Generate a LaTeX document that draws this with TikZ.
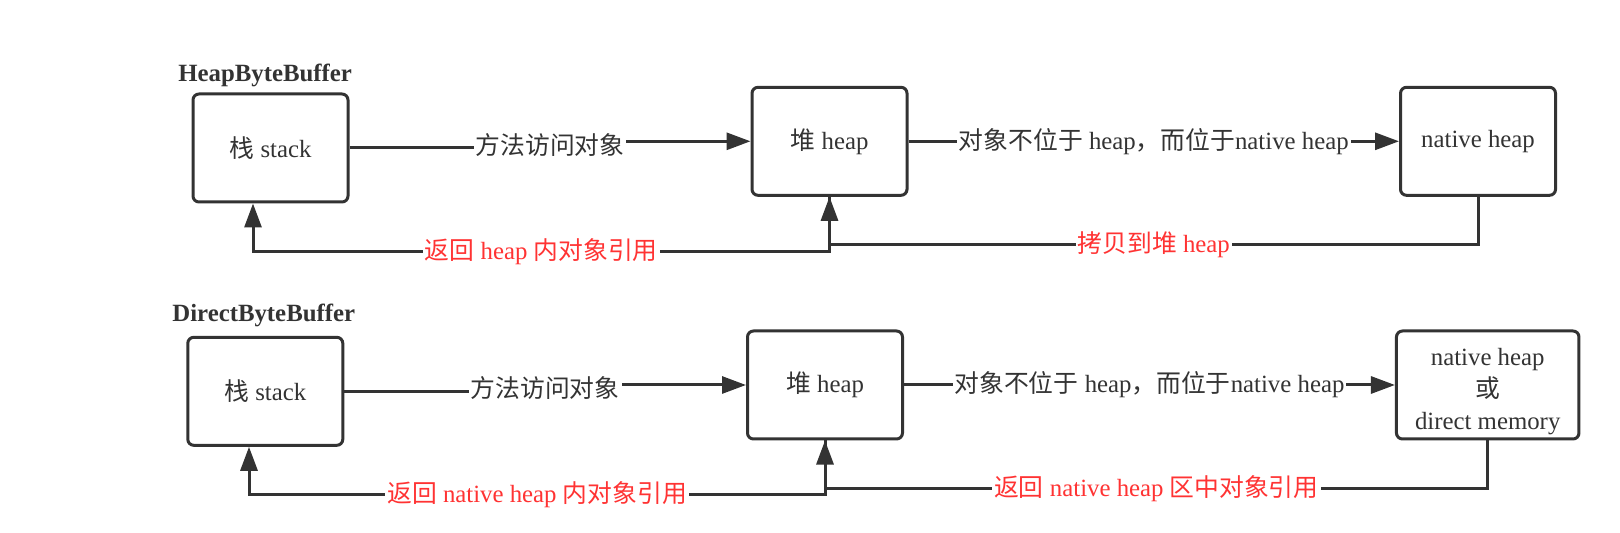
\documentclass[tikz,border=0pt]{standalone}
\usepackage{fontspec}
\setmainfont{Liberation Serif}
\newfontfamily\cjk{Noto Sans CJK SC}
\usepackage{xcolor}
\usepackage{tikz}
\usetikzlibrary{arrows.meta,calc}
\definecolor{bufInk}{HTML}{333333}
\definecolor{bufRed}{HTML}{FF3333}
\newcommand{\hanzi}[1]{{\cjk #1}}

\begin{document}
\begin{tikzpicture}[x=.5pt,y=-.5pt,font=\fontsize{12.4}{14}\selectfont]
  \tikzset{mem/.style={draw=bufInk,text=bufInk,line width=1.5pt,rounded corners=3pt,minimum width=77.5pt,minimum height=54pt,align=center,inner sep=2pt},
    flow/.style={draw=bufInk,line width=1.5pt,-{Triangle[length=12pt,width=8.5pt]}},
    lbl/.style={fill=white,text=bufInk,inner sep=1pt},
    back/.style={lbl,text=bufRed},
    title/.style={anchor=west,inner sep=0pt,text=bufInk,font=\fontsize{12.4}{14}\selectfont\bfseries}}
  \useasboundingbox (0,0) rectangle (1620,533);
  % HeapByteBuffer
  \node[title] (t1) at (178,75) {HeapByteBuffer};
  \node[mem] (stack1) at (270.5,148) {\hanzi{栈} stack};
  \node[mem] (heap1) at (829.5,141.3) {\hanzi{堆} heap};
  \node[mem] (native1) at (1478,141.3) {native heap};
  \draw[flow] (stack1.east) -| ($(stack1.east)!.5!(heap1.west)$) node[lbl] {\hanzi{方法访问对象}} |- (heap1.west);
  \draw[flow] (heap1.east) -- node[lbl] {\hanzi{对象不位于} heap\hanzi{，而位于}native heap} (native1.west);
  \draw[flow] (heap1.south) -- ++(0,55) -| node[back,pos=.25] {\hanzi{返回} heap \hanzi{内对象引用}} ($(stack1.south)+(-17.5,0)$);
  \draw[flow] (native1.south) -- ++(0,48) -| node[back,pos=.25] {\hanzi{拷贝到堆} heap} (heap1.south);
  % DirectByteBuffer
  \node[title] (t2) at (172,315) {DirectByteBuffer};
  \node[mem] (stack2) at (265.3,391.3) {\hanzi{栈} stack};
  \node[mem] (heap2) at (825,385) {\hanzi{堆} heap};
  \node[mem,minimum width=91.25pt,inner ysep=.5pt,font=\fontsize{12.4}{16}\selectfont] (native2) at (1487.7,385) {\rule{0pt}{15pt}native heap\\\hanzi{或}\\direct memory};
  \draw[flow] (stack2.east) -| ($(stack2.east)!.5!(heap2.west)$) node[lbl] {\hanzi{方法访问对象}} |- (heap2.west);
  \draw[flow] (heap2.east) -- node[lbl] {\hanzi{对象不位于} heap\hanzi{，而位于}native heap} (native2.west);
  \draw[flow] (heap2.south) -- ++(0,54) -| node[back,pos=.25] {\hanzi{返回} native heap \hanzi{内对象引用}} ($(stack2.south)+(-16.3,0)$);
  \draw[flow] (native2.south) -- ++(0,48) -| node[back,pos=.25] {\hanzi{返回} native heap \hanzi{区中对象引用}} (heap2.south);
\end{tikzpicture}
\end{document}
